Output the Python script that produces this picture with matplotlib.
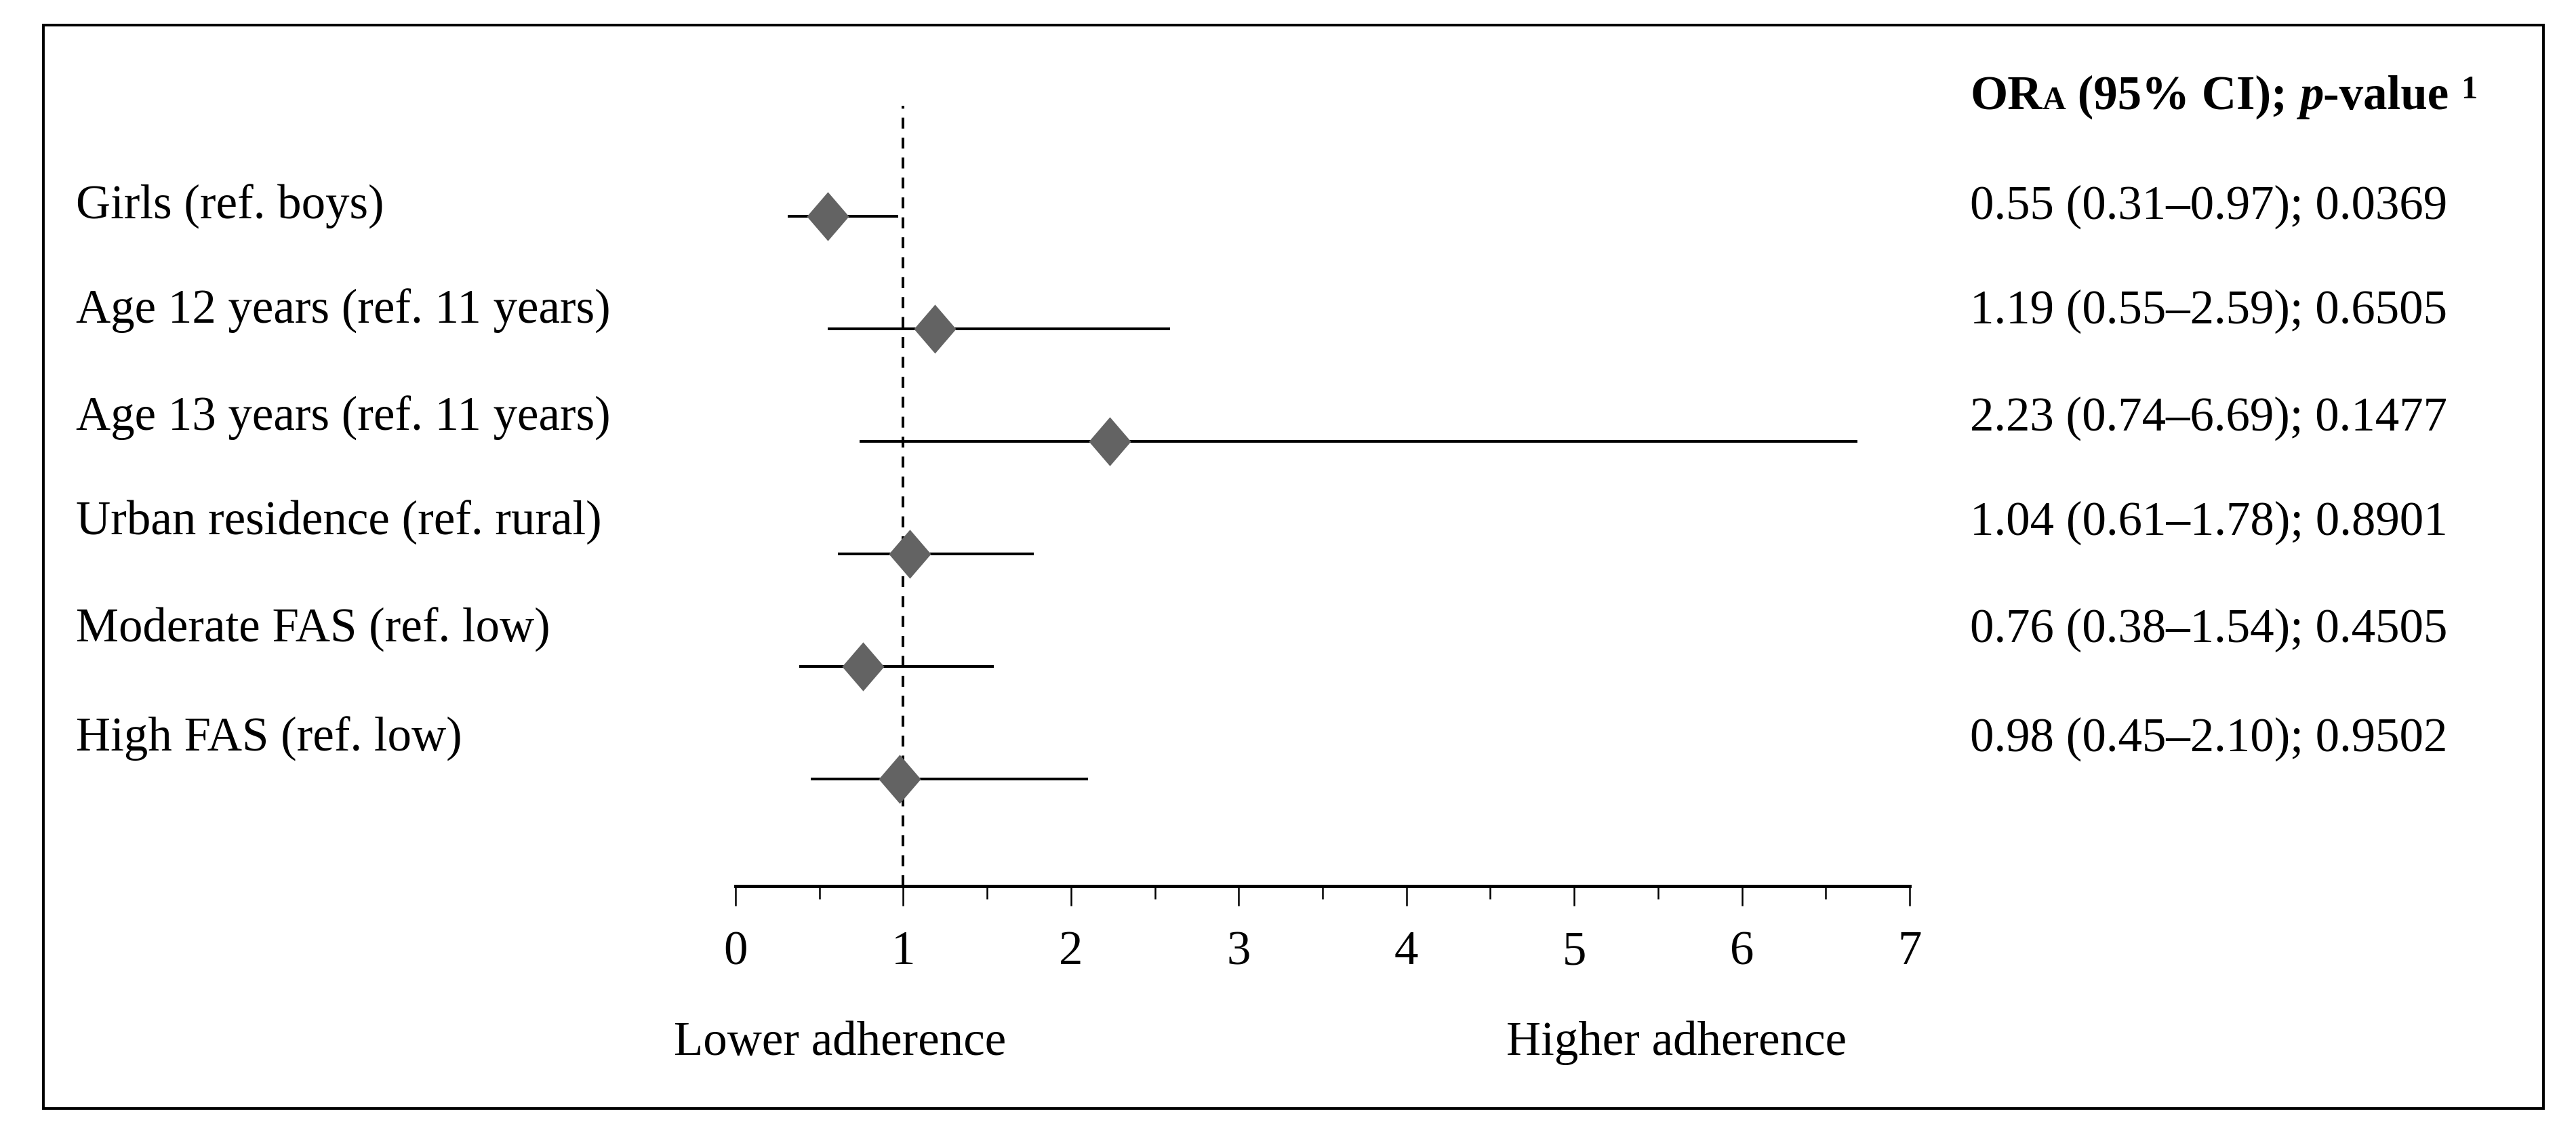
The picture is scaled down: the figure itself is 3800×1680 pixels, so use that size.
import matplotlib
matplotlib.use('Agg')
import matplotlib.pyplot as plt
from matplotlib.path import Path
from matplotlib.patches import Rectangle
from matplotlib.ticker import MultipleLocator

plt.rcParams['font.family'] = ['Liberation Serif', 'DejaVu Serif']

# data
labels = ['Girls (ref. boys)', 'Age 12 years (ref. 11 years)', 'Age 13 years (ref. 11 years)',
          'Urban residence (ref. rural)', 'Moderate FAS (ref. low)', 'High FAS (ref. low)']
odds = [0.55, 1.19, 2.23, 1.04, 0.76, 0.98]
ci_low = [0.31, 0.55, 0.74, 0.61, 0.38, 0.45]
ci_high = [0.97, 2.59, 6.69, 1.78, 1.54, 2.10]
p_values = ['0.0369', '0.6505', '0.1477', '0.8901', '0.4505', '0.9502']
x_ticks = [0, 1, 2, 3, 4, 5, 6, 7]

W, H = 3800, 1680
fig = plt.figure(figsize=(W / 100, H / 100), dpi=100)


def fx(px):
    return px / W


def fy(py):
    return 1 - py / H


FS = 51

# main axes: x=0 at 1085 px, x=7 at 2817 px, axis line at 1307 px, top at 156 px
ax = fig.add_axes([fx(1085), fy(1307), fx(2817 - 1085), fy(156) - fy(1307)])
ax.set_xlim(0, 7)
ax.set_ylim(5.95, -0.98)

diamond = Path([(0, 1), (0.86, 0), (0, -1), (-0.86, 0), (0, 1)],
               [Path.MOVETO, Path.LINETO, Path.LINETO, Path.LINETO, Path.CLOSEPOLY])

rows = list(range(len(odds)))
ax.hlines(rows, ci_low, ci_high, color='black', lw=2.9, zorder=2)
ax.plot(odds, rows, linestyle='none', marker=diamond, markersize=52,
        color='#636363', markeredgewidth=0, zorder=3)
ax.axvline(1, color='black', lw=2.9, linestyle=(0, (4, 3.3)), zorder=1)

for s in ['top', 'right', 'left']:
    ax.spines[s].set_visible(False)
ax.spines['bottom'].set_linewidth(3.5)
ax.set_yticks([])
ax.set_xticks(x_ticks)
ax.xaxis.set_minor_locator(MultipleLocator(0.5))
ax.tick_params(axis='x', which='major', length=21, width=1.8, direction='out',
               labelsize=FS, pad=26)
ax.tick_params(axis='x', which='minor', length=14, width=1.8, direction='out')

# row labels and result column
baselines = [323, 477, 635, 789, 947, 1108]
for i, lab in enumerate(labels):
    fig.text(fx(112), fy(baselines[i]), lab, fontsize=FS, va='baseline', ha='left')
    txt = f'{odds[i]:.2f} ({ci_low[i]:.2f}\u2013{ci_high[i]:.2f}); {p_values[i]}'
    fig.text(fx(2906), fy(baselines[i]), txt, fontsize=FS, va='baseline', ha='left')

fig.text(fx(994), fy(1556), 'Lower adherence', fontsize=FS, va='baseline', ha='left')
fig.text(fx(2222), fy(1556), 'Higher adherence', fontsize=FS, va='baseline', ha='left')

# header built from pieces
fig.canvas.draw()
renderer = fig.canvas.get_renderer()
pieces = [('OR', FS, 'bold', 'normal', 0),
          ('A', FS * 0.68, 'bold', 'normal', 0),
          (' (95% CI); ', FS, 'bold', 'normal', 0),
          ('p', FS, 'bold', 'italic', 0),
          ('-value ', FS, 'bold', 'normal', 0),
          ('1', FS * 0.68, 'bold', 'normal', 16)]
x = 2906
for s, size, weight, style, rise in pieces:
    t = fig.text(fx(x), fy(161 - rise), s, fontsize=size, fontweight=weight,
                 fontstyle=style, va='baseline', ha='left')
    bb = t.get_window_extent(renderer)
    x += bb.width

# outer frame
fig.patches.append(Rectangle((fx(64), fy(1635)), fx(3752 - 64), fy(37) - fy(1635),
                             transform=fig.transFigure, fill=False,
                             edgecolor='black', lw=2.8))

fig.savefig('out.png', dpi=100, facecolor='white')
